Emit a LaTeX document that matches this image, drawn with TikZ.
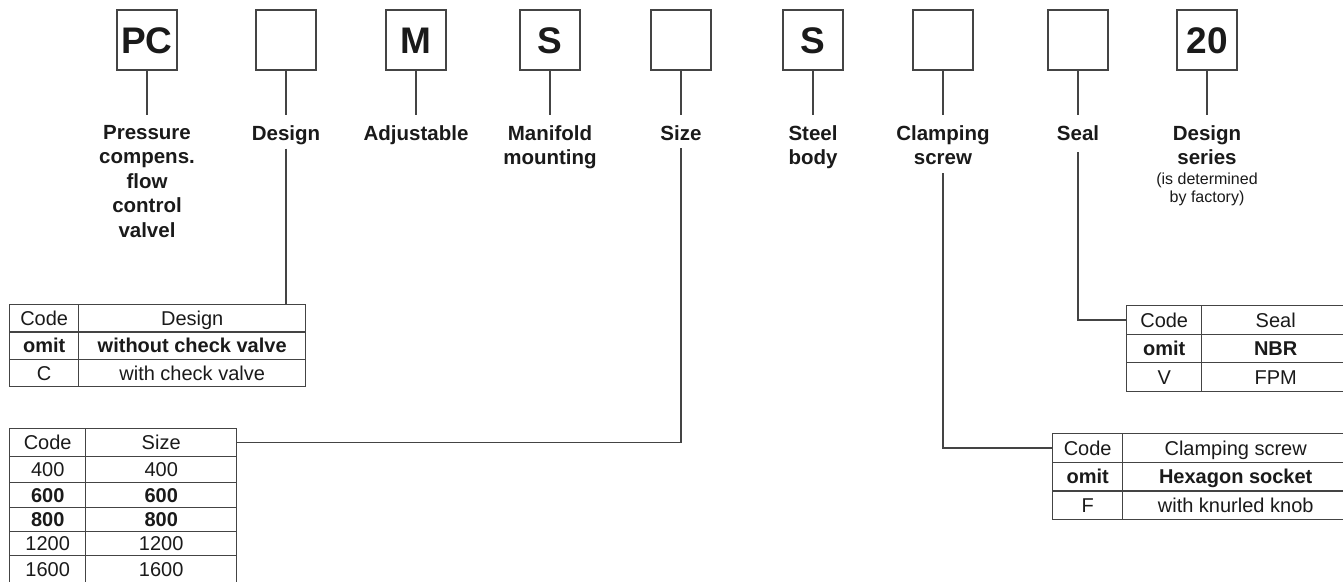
\documentclass[tikz,border=0pt]{standalone}
\usepackage{fontspec}
\setmainfont{Liberation Sans}
\definecolor{ink}{HTML}{1A1A1A}
\definecolor{rulegray}{HTML}{444444}
\begin{document}
\begin{tikzpicture}[x=1pt,y=-1pt,
  codebox/.style={draw=rulegray, line width=1.4pt, minimum width=60pt, minimum height=60pt,
    inner sep=0pt, text=ink, text height=26pt, text depth=0pt,
    font=\fontsize{37}{37}\selectfont\bfseries},
  caption/.style={align=center, inner sep=0pt, anchor=north, text=ink,
    font=\fontsize{20.5}{24.5}\selectfont\bfseries},
  note/.style={align=center, inner sep=0pt, anchor=north, text=ink,
    font=\fontsize{16}{18}\selectfont},
  lead/.style={draw=rulegray, line width=1.3pt},
  cell/.style={draw=rulegray, line width=1.4pt, inner sep=0pt, anchor=north west,
    text=ink, text height=14.5pt, text depth=0pt, font=\fontsize{20}{20}\selectfont},
  hot/.style={font=\fontsize{20}{20}\selectfont\bfseries}]

\path[use as bounding box] (0,0) rectangle (1343,581);
\clip (0,0) rectangle (1343,581);

% ordering code boxes
\node[codebox] (b1) at (147,40) {PC};
\node[codebox] (b2) at (286,40) {};
\node[codebox] (b3) at (416,40) {M};
\node[codebox] (b4) at (550,40) {S};
\node[codebox] (b5) at (681,40) {};
\node[codebox] (b6) at (813,40) {S};
\node[codebox] (b7) at (943,40) {};
\node[codebox] (b8) at (1078,40) {};
\node[codebox] (b9) at (1207,40) {20};

% captions under the boxes
\node[caption] (l1) at (147,125) {Pressure\\compens.\\flow\\control\\valvel};
\node[caption] (l2) at (286,125) {Design};
\node[caption] (l3) at (416,125) {Adjustable};
\node[caption] (l4) at (550,125) {Manifold\\mounting};
\node[caption] (l5) at (681,125) {Size};
\node[caption] (l6) at (813,125) {Steel\\body};
\node[caption] (l7) at (943,125) {Clamping\\screw};
\node[caption] (l8) at (1078,125) {Seal};
\node[caption] (l9) at (1207,125) {Design\\series};
\node[note] (l9n) at (1207,173) {(is determined\\by factory)};

% short leads box -> caption
\foreach \i in {1,...,9}
  \draw[lead] (b\i.south) -- ([yshift=10pt]l\i.north);

% Design table
\node[cell, minimum width=69pt, minimum height=27.33pt] (d11) at (9,304) {Code};
\node[cell, minimum width=227pt, minimum height=27.33pt] (d12) at (78,304) {Design};
\node[cell, hot, minimum width=69pt, minimum height=27.33pt] (d21) at (9,331.33) {omit};
\node[cell, hot, minimum width=227pt, minimum height=27.33pt] (d22) at (78,331.33) {without check valve};
\node[cell, minimum width=69pt, minimum height=27.33pt] (d31) at (9,358.67) {C};
\node[cell, minimum width=227pt, minimum height=27.33pt] (d32) at (78,358.67) {with check valve};

% Size table
\node[cell, minimum width=76pt, minimum height=28pt] (s11) at (9,428) {Code};
\node[cell, minimum width=151pt, minimum height=28pt] (s12) at (85,428) {Size};
\node[cell, minimum width=76pt, minimum height=26pt] (s21) at (9,456) {400};
\node[cell, minimum width=151pt, minimum height=26pt] (s22) at (85,456) {400};
\node[cell, hot, minimum width=76pt, minimum height=25pt] (s31) at (9,482) {600};
\node[cell, hot, minimum width=151pt, minimum height=25pt] (s32) at (85,482) {600};
\node[cell, hot, minimum width=76pt, minimum height=24pt] (s41) at (9,507) {800};
\node[cell, hot, minimum width=151pt, minimum height=24pt] (s42) at (85,507) {800};
\node[cell, minimum width=76pt, minimum height=24pt] (s51) at (9,531) {1200};
\node[cell, minimum width=151pt, minimum height=24pt] (s52) at (85,531) {1200};
\node[cell, minimum width=76pt, minimum height=28pt] (s61) at (9,555) {1600};
\node[cell, minimum width=151pt, minimum height=28pt] (s62) at (85,555) {1600};

% Seal table
\node[cell, minimum width=75pt, minimum height=28.5pt] (e11) at (1126,305) {Code};
\node[cell, minimum width=148pt, minimum height=28.5pt] (e12) at (1201,305) {Seal};
\node[cell, hot, minimum width=75pt, minimum height=28.5pt] (e21) at (1126,333.5) {omit};
\node[cell, hot, minimum width=148pt, minimum height=28.5pt] (e22) at (1201,333.5) {NBR};
\node[cell, minimum width=75pt, minimum height=28.5pt] (e31) at (1126,362) {V};
\node[cell, minimum width=148pt, minimum height=28.5pt] (e32) at (1201,362) {FPM};

% Clamping screw table
\node[cell, minimum width=70pt, minimum height=28.67pt] (c11) at (1052,433) {Code};
\node[cell, minimum width=226pt, minimum height=28.67pt] (c12) at (1122,433) {Clamping screw};
\node[cell, hot, minimum width=70pt, minimum height=28.67pt] (c21) at (1052,461.67) {omit};
\node[cell, hot, minimum width=226pt, minimum height=28.67pt] (c22) at (1122,461.67) {Hexagon socket};
\node[cell, minimum width=70pt, minimum height=28.67pt] (c31) at (1052,490.33) {F};
\node[cell, minimum width=226pt, minimum height=28.67pt] (c32) at (1122,490.33) {with knurled knob};

% leads caption -> table
\draw[lead] ([yshift=-4pt]l2.south) -- (l2.south |- d12.north);
\draw[lead] ([yshift=-8pt]l5.south) -- (l5.south |- s12.east) -- (s12.east);
\draw[lead] ([yshift=-8.5pt]l7.south) -- (l7.south |- c11.west) -- (c11.west);
\draw[lead] ([yshift=-12pt]l8.south) -- (l8.south |- e11.west) -- (e11.west);
\end{tikzpicture}
\end{document}
